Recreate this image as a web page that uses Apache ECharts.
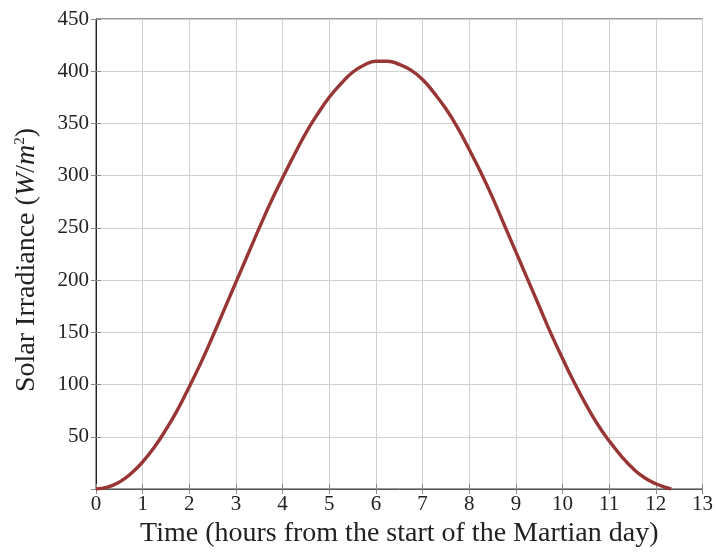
<!DOCTYPE html>
<html><head><meta charset="utf-8">
<script src="https://cdn.jsdelivr.net/npm/echarts@6/dist/echarts.min.js"></script>
<style>html,body{margin:0;padding:0;background:#fff}#c{width:716px;height:553px}</style>
</head><body><div id="c"></div>
<script>
const hours = [0, 0.25, 0.5, 0.75, 1, 1.25, 1.5, 1.75, 2, 2.25, 2.5, 2.75, 3, 3.25, 3.5, 3.75, 4, 4.25, 4.5, 4.75, 5, 5.25, 5.5, 5.75, 6, 6.25, 6.5, 6.75, 7, 7.25, 7.5, 7.75, 8, 8.25, 8.5, 8.75, 9, 9.25, 9.5, 9.75, 10, 10.25, 10.5, 10.75, 11, 11.25, 11.5, 11.75, 12, 12.25, 12.33];
const irradiance = [0, 1.7, 6.6, 14.8, 26, 40, 57, 76, 98, 121, 146, 172, 198, 224, 250, 275, 298, 320, 341, 359, 375, 388, 399, 406, 409.5, 409.6, 406.5, 401, 392, 379, 364, 346, 325, 303, 279, 253, 227, 201, 175, 149, 125, 102, 81, 62, 46, 32, 20, 11, 5, 1, 0];
const xTicks = [0,1,2,3,4,5,6,7,8,9,10,11,12,13];
const yTicks = [50,100,150,200,250,300,350,400,450];

const FONT = 'Liberation Serif';
const chart = echarts.init(document.getElementById('c'));
const pts = hours.map((h,i)=>[h, irradiance[i]]);
chart.setOption({
  animation:false,
  grid:{left:96, right:12, top:19, bottom:62, show:true, borderColor:'#333', borderWidth:1},
  xAxis:[{
    type:'value', min:0, max:13, interval:1, position:'bottom',
    name:'Time (hours from the start of the Martian day)', nameLocation:'middle', nameGap:31,
    nameTextStyle:{fontFamily:FONT, fontSize:28, color:'#222'},
    axisLine:{show:true, lineStyle:{color:'#555', width:1}},
    axisTick:{show:true, inside:true, length:5, lineStyle:{color:'#888'}},
    axisLabel:{fontFamily:FONT, fontSize:21, color:'#222', margin:5,
      formatter:v=>xTicks.includes(v)?String(v):''},
    splitLine:{show:true, lineStyle:{color:'#d0d0d0', width:1}}
  },{
    type:'value', min:0, max:13, interval:1, position:'top',
    axisLine:{show:false}, axisTick:{show:true, inside:true, length:5, lineStyle:{color:'#888'}},
    axisLabel:{show:false}, splitLine:{show:false}
  }],
  yAxis:[{
    type:'value', min:0, max:450, interval:50, position:'left',
    name:'Solar Irradiance ({i|W}/{i|m}{s|2})', nameLocation:'middle', nameGap:55,
    nameTextStyle:{fontFamily:FONT, fontSize:28, color:'#222', padding:[0,0,0,-12],
      rich:{i:{fontFamily:FONT, fontStyle:'italic', fontSize:28, color:'#222'},
            s:{fontFamily:FONT, fontSize:15, color:'#222', verticalAlign:'top', padding:[0,0,12,0]}}},
    axisLine:{show:true, lineStyle:{color:'#222'}},
    axisTick:{show:true, inside:true, length:5, lineStyle:{color:'#888'}},
    axisLabel:{fontFamily:FONT, fontSize:21, color:'#222', margin:7,
      formatter:v=>yTicks.includes(v)?String(v):''},
    splitLine:{show:true, lineStyle:{color:'#d0d0d0', width:1}}
  },{
    type:'value', min:0, max:450, interval:50, position:'right',
    axisLine:{show:false}, axisTick:{show:true, inside:true, length:5, lineStyle:{color:'#888'}},
    axisLabel:{show:false}, splitLine:{show:false}
  }],
  series:[{
    type:'line', data:pts, smooth:true, showSymbol:false, symbol:'none',
    lineStyle:{color:'#983535', width:3.4}, z:5
  }]
});
</script></body></html>
